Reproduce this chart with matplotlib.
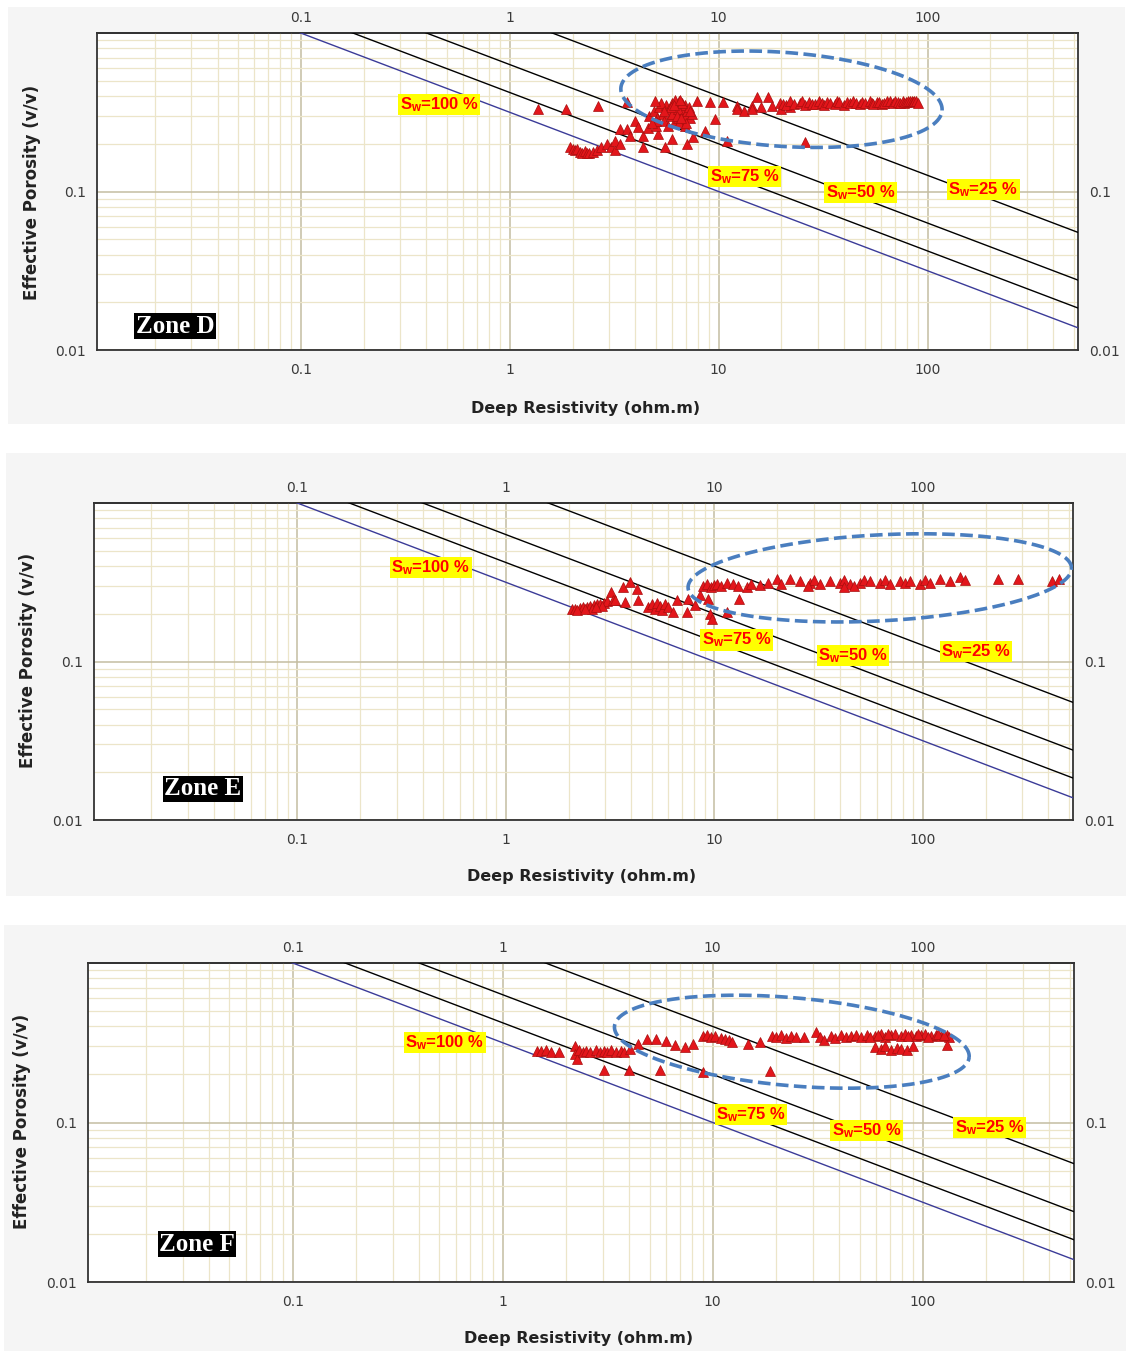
import matplotlib
matplotlib.use('Agg')
import matplotlib.pyplot as plt
from matplotlib.patches import Rectangle
from matplotlib.ticker import FixedLocator, NullFormatter, NullLocator
import numpy as np

plt.rcParams['mathtext.fontset'] = 'custom'
plt.rcParams['mathtext.rm'] = 'Liberation Sans:bold'
plt.rcParams['mathtext.it'] = 'Liberation Sans:bold'

# ---- Archie lines (a*Rw, m, n) ----
a_rw = 0.1
m_exp = 2.0
n_exp = 2.0
sw_levels = [1.00, 0.75, 0.50, 0.25]
sw_names = ['100', '75', '50', '25']

# ---- axes ----
x_range = (0.0106, 525)
y_range = (0.01, 1.0)
x_ticks = [0.1, 1, 10, 100]
x_tick_labels = ['0.1', '1', '10', '100']
y_ticks = [0.01, 0.1]
y_tick_labels = ['0.01', '0.1']

# ---- data: (deep resistivity, effective porosity) ----
zone_d_pts = [
    (1.36, 0.33), (1.87, 0.33), (2.64, 0.345),
    (1.94, 0.19), (2.0, 0.185), (2.05, 0.182), (2.1, 0.186), (2.16, 0.178),
    (2.22, 0.175), (2.29, 0.18), (2.35, 0.176), (2.41, 0.175), (2.5, 0.178),
    (2.61, 0.184), (2.75, 0.19), (2.91, 0.198), (3.05, 0.19), (3.18, 0.184),
    (3.18, 0.207), (3.36, 0.2),
    (3.36, 0.247), (3.63, 0.247), (3.96, 0.277), (4.1, 0.254), (4.33, 0.223),
    (3.75, 0.223), (5.11, 0.23), (5.52, 0.19), (7.03, 0.198), (7.51, 0.22),
    (8.57, 0.24), (9.57, 0.286), (11.0, 0.207), (4.33, 0.19), (25.8, 0.204),
    (4.6, 0.25), (5.0, 0.26), (6.0, 0.215),
    (4.67, 0.3), (4.9, 0.32), (5.1, 0.29), (5.2, 0.34), (5.4, 0.31), (5.5, 0.28),
    (5.6, 0.35), (5.8, 0.33), (5.9, 0.3), (6.0, 0.36), (6.1, 0.27), (6.2, 0.32),
    (6.3, 0.34), (6.4, 0.29), (6.5, 0.37), (6.6, 0.31), (6.7, 0.33), (6.8, 0.28),
    (6.9, 0.35), (7.0, 0.3), (7.1, 0.32), (7.3, 0.29), (7.5, 0.31), (5.3, 0.36),
    (6.2, 0.38), (6.5, 0.27), (5.7, 0.26), (6.9, 0.26), (7.2, 0.34), (6.0, 0.31),
    (6.4, 0.33), (5.0, 0.28), (4.8, 0.27), (5.9, 0.34), (6.3, 0.30), (6.7, 0.36),
    (7.0, 0.27), (5.5, 0.32), (6.1, 0.35), (6.6, 0.29), (7.3, 0.32),
    (3.63, 0.365), (4.94, 0.371), (6.51, 0.38), (7.85, 0.371), (9.06, 0.366),
    (10.45, 0.366), (12.2, 0.345), (14.5, 0.345), (15.2, 0.394), (17.2, 0.394),
    (18.1, 0.345), (12.2, 0.33), (13.3, 0.32), (14.5, 0.33), (16.0, 0.34),
    (20.0, 0.33), (22.0, 0.34),
    (19.6, 0.36), (20.3, 0.355), (21.0, 0.35), (21.9, 0.37), (23.0, 0.355),
    (24.4, 0.36), (25.2, 0.37), (26.0, 0.35), (27.2, 0.365), (28.0, 0.355),
    (29.0, 0.355), (30.4, 0.37), (31.2, 0.36), (32.0, 0.35), (33.0, 0.365),
    (34.0, 0.36), (36.0, 0.355), (37.0, 0.37), (37.9, 0.365), (40.0, 0.35),
    (41.0, 0.365), (42.4, 0.36), (44.0, 0.37), (45.5, 0.36), (47.3, 0.355),
    (48.6, 0.365), (50.0, 0.36), (52.8, 0.37), (54.0, 0.36), (55.0, 0.355),
    (57.0, 0.365), (58.9, 0.365), (60.5, 0.355), (62.0, 0.36), (64.0, 0.37),
    (65.8, 0.37), (68.0, 0.36), (70.0, 0.375), (72.0, 0.365), (73.5, 0.36),
    (76.0, 0.37), (77.5, 0.36), (79.0, 0.365), (80.5, 0.37), (82.0, 0.375),
    (84.0, 0.37), (85.0, 0.365), (86.5, 0.375), (88.0, 0.37), (89.6, 0.36),
]

zone_e_pts = [
    (2.07, 0.215), (2.15, 0.213), (2.26, 0.218), (2.35, 0.22), (2.45, 0.222),
    (2.53, 0.225), (2.65, 0.228), (2.75, 0.23), (2.82, 0.232), (2.95, 0.235),
    (3.05, 0.24), (3.19, 0.276), (3.25, 0.245), (3.33, 0.245), (2.6, 0.215),
    (2.9, 0.225), (2.2, 0.21), (2.4, 0.215), (2.7, 0.222),
    (3.64, 0.296), (3.93, 0.318), (4.25, 0.288), (3.72, 0.238), (4.3, 0.245),
    (4.8, 0.22), (5.0, 0.23), (5.18, 0.215), (5.3, 0.235), (5.48, 0.225),
    (5.6, 0.212), (5.79, 0.23), (6.0, 0.22), (6.32, 0.206), (6.61, 0.245),
    (7.38, 0.206), (7.46, 0.249), (8.06, 0.228), (8.52, 0.264), (9.31, 0.249),
    (9.52, 0.2), (9.73, 0.186), (11.5, 0.206), (13.2, 0.249),
    (8.81, 0.3), (9.2, 0.31), (9.6, 0.295), (10.0, 0.305), (10.3, 0.31),
    (10.8, 0.3), (11.5, 0.315), (12.3, 0.31), (13.0, 0.3), (14.3, 0.296),
    (15.0, 0.31), (16.5, 0.305), (18.0, 0.315), (19.9, 0.333), (21.0, 0.31),
    (23.0, 0.333), (25.7, 0.32), (28.7, 0.315), (30.0, 0.325), (32.1, 0.31),
    (35.8, 0.32), (40.0, 0.315), (42.0, 0.325), (44.7, 0.31), (49.9, 0.315),
    (52.0, 0.325), (55.7, 0.32), (62.2, 0.315), (66.0, 0.325), (69.5, 0.31),
    (77.6, 0.32), (82.0, 0.315), (86.6, 0.32), (96.8, 0.31), (102.0, 0.325),
    (108.0, 0.315), (121.0, 0.33), (135.0, 0.32), (150.0, 0.34), (159.0, 0.325),
    (229.0, 0.333), (286.0, 0.333), (416.0, 0.32), (449.0, 0.333),
    (42.0, 0.296), (47.0, 0.30), (28.0, 0.30),
]

zone_f_pts = [
    (1.45, 0.28), (1.52, 0.28), (1.6, 0.285), (1.7, 0.278), (1.85, 0.275),
    (2.2, 0.3), (2.2, 0.27), (2.25, 0.251), (2.3, 0.285), (2.4, 0.275),
    (2.48, 0.28), (2.6, 0.278), (2.77, 0.285), (2.9, 0.278), (3.03, 0.28),
    (3.15, 0.275), (3.27, 0.285), (3.45, 0.278), (3.65, 0.28), (3.8, 0.275),
    (4.02, 0.29),
    (3.03, 0.214), (3.98, 0.214), (5.59, 0.214), (8.96, 0.208), (18.7, 0.211),
    (4.39, 0.312), (4.85, 0.335), (5.35, 0.335), (5.97, 0.326), (6.59, 0.307),
    (7.36, 0.299), (8.03, 0.312), (8.96, 0.35), (9.4, 0.355), (9.78, 0.345),
    (10.3, 0.35), (10.9, 0.34), (11.5, 0.335), (11.9, 0.33), (12.4, 0.321),
    (14.8, 0.312), (16.7, 0.321), (19.1, 0.35), (20.0, 0.345), (21.1, 0.355),
    (22.3, 0.34), (23.5, 0.35), (25.0, 0.345), (27.1, 0.345), (30.9, 0.371),
    (32.3, 0.345), (34.0, 0.33), (36.5, 0.35), (38.0, 0.34), (40.7, 0.355),
    (43.0, 0.345), (45.4, 0.35), (48.0, 0.355), (50.7, 0.345), (54.0, 0.355),
    (59.1, 0.35), (63.1, 0.36), (66.0, 0.345), (70.4, 0.355), (74.0, 0.36),
    (78.5, 0.35), (82.0, 0.36), (88.0, 0.355), (92.7, 0.35), (98.0, 0.355),
    (103.0, 0.36), (110.0, 0.35), (115.0, 0.355), (122.0, 0.35), (131.0, 0.355),
    (134.0, 0.345), (56.0, 0.345), (61.0, 0.355), (68.0, 0.36), (85.0, 0.35),
    (95.0, 0.36), (106.0, 0.345), (118.0, 0.36), (126.0, 0.355),
    (59.1, 0.299), (63.0, 0.29), (66.0, 0.3), (70.4, 0.286), (75.0, 0.295),
    (78.5, 0.29), (84.0, 0.286), (90.0, 0.3), (131.0, 0.307),
]

# ---- layout (pixels of the 1126x1351 figure) ----
W, H = 1126, 1351
panels = [
    dict(name='Zone D', pts=zone_d_pts, box=(97, 33, 1078, 350), bg=(8, 7, 1125, 424),
         sw_pos=[(0.46, 0.355), (13.3, 0.124), (47.8, 0.099), (185, 0.103)],
         zone_xy=(0.0795, 0.0757), ell=(20.0, 0.382, 161, 47, -4),
         xlab=(586, 408), ylab=(32, 192)),
    dict(name='Zone E', pts=zone_e_pts, box=(94, 503, 1073, 820), bg=(6, 453, 1126, 896),
         sw_pos=[(0.437, 0.39), (12.8, 0.137), (46.2, 0.109), (179.6, 0.116)],
         zone_xy=(0.111, 0.098), ell=(62.2, 0.337, 192, 43, 3),
         xlab=(582, 877), ylab=(28, 660)),
    dict(name='Zone F', pts=zone_f_pts, box=(88, 963, 1074, 1282), bg=(4, 925, 1126, 1351),
         sw_pos=[(0.53, 0.316), (15.2, 0.112), (54.1, 0.089), (208, 0.093)],
         zone_xy=(0.1105, 0.119), ell=(23.8, 0.321, 178, 44, -5),
         xlab=(579, 1338), ylab=(22, 1121)),
]

fig = plt.figure(figsize=(W / 100, H / 100), dpi=100)
fig.patch.set_facecolor('white')

rt_line = np.logspace(np.log10(x_range[0]), np.log10(x_range[1]), 200)
tick_col = '#3a3a3a'

for p in panels:
    # light grey panel background, kept behind the axes
    bx0, by0, bx1, by1 = p['bg']
    fig.patches.append(Rectangle((bx0 / W, 1 - by1 / H), (bx1 - bx0) / W, (by1 - by0) / H,
                                 transform=fig.transFigure, facecolor='#f5f5f5',
                                 edgecolor='none', zorder=-10))

    l, t, r, b = p['box']
    ax = fig.add_axes([l / W, 1 - b / H, (r - l) / W, (b - t) / H])
    ax.set_facecolor('white')
    ax.set_xscale('log')
    ax.set_yscale('log')
    ax.set_xlim(*x_range)
    ax.set_ylim(*y_range)

    ax.xaxis.set_major_locator(FixedLocator(x_ticks))
    ax.set_xticklabels(x_tick_labels)
    ax.yaxis.set_major_locator(FixedLocator(y_ticks))
    ax.set_yticklabels(y_tick_labels)
    subs = [k * 10.0 ** e for e in range(-3, 4) for k in range(2, 10)]
    ax.xaxis.set_minor_locator(FixedLocator(subs))
    ax.yaxis.set_minor_locator(FixedLocator(subs))
    ax.xaxis.set_minor_formatter(NullFormatter())
    ax.yaxis.set_minor_formatter(NullFormatter())

    ax.grid(which='minor', color='#ece5c9', lw=0.9, zorder=0)
    ax.grid(which='major', color='#c4bda2', lw=1.1, zorder=0)
    ax.set_axisbelow(True)

    ax.tick_params(which='both', length=0, right=True, labelright=True,
                   labelsize=10, labelcolor=tick_col)
    ax.tick_params(axis='x', which='major', pad=9)
    ax.tick_params(axis='y', which='major', pad=8)
    for sp in ax.spines.values():
        sp.set_color('#333333')
        sp.set_linewidth(1.3)

    # top labels sit a little closer to the frame than the bottom ones
    top = ax.secondary_xaxis('top')
    top.xaxis.set_major_locator(FixedLocator(x_ticks))
    top.set_xticklabels(x_tick_labels)
    top.xaxis.set_minor_locator(NullLocator())
    top.tick_params(length=0, pad=6, labelsize=10, labelcolor=tick_col)
    top.spines['top'].set_color('#333333')
    top.spines['top'].set_linewidth(1.3)

    # saturation lines
    for sw in sw_levels:
        phi_line = (a_rw / (rt_line * sw ** n_exp)) ** (1 / m_exp)
        col = '#3b3b98' if sw == 1.0 else 'black'
        ax.plot(rt_line, phi_line, color=col, lw=1.0, zorder=3)

    rt = [v[0] for v in p['pts']]
    phi = [v[1] for v in p['pts']]
    ax.plot(rt, phi, ls='none', marker='^', ms=7.5, color='#e3161b',
            mec='#a80e0e', mew=0.5, zorder=5)

    # dashed ellipse around the hydrocarbon trend
    cx, cy, ea, eb, ang = p['ell']
    c = ax.transData.transform((cx, cy))
    tt = np.linspace(0, 2 * np.pi, 400)
    th = np.radians(ang)
    ex = c[0] + ea * np.cos(tt) * np.cos(th) - eb * np.sin(tt) * np.sin(th)
    ey = c[1] + ea * np.cos(tt) * np.sin(th) + eb * np.sin(tt) * np.cos(th)
    ell = ax.transData.inverted().transform(np.column_stack([ex, ey]))
    ax.plot(ell[:, 0], ell[:, 1], color='#4a7ebf', lw=2.6, ls=(0, (3.5, 1.5)), zorder=6)

    for (lx, ly), nm in zip(p['sw_pos'], sw_names):
        ax.text(lx, ly, r'S$_\mathrm{w}$=' + nm + ' %', color='#ff0000', fontsize=12,
                fontweight='bold', family='Liberation Sans', ha='center', va='center',
                bbox=dict(boxstyle='square,pad=0.08', fc='#ffff00', ec='none'), zorder=7)

    ax.text(p['zone_xy'][0], p['zone_xy'][1], p['name'], transform=ax.transAxes,
            color='white', fontsize=18, fontweight='bold', family='Liberation Serif',
            ha='center', va='center',
            bbox=dict(boxstyle='square,pad=0.06', fc='black', ec='none'), zorder=7)

    fig.text(p['xlab'][0] / W, 1 - p['xlab'][1] / H, 'Deep Resistivity (ohm.m)',
             ha='center', va='center', fontsize=11.5, fontweight='bold', color='#222222')
    fig.text(p['ylab'][0] / W, 1 - p['ylab'][1] / H, 'Effective Porosity (v/v)',
             ha='center', va='center', rotation=90, fontsize=12, fontweight='bold',
             color='#222222')

fig.savefig('out.png', dpi=100)
